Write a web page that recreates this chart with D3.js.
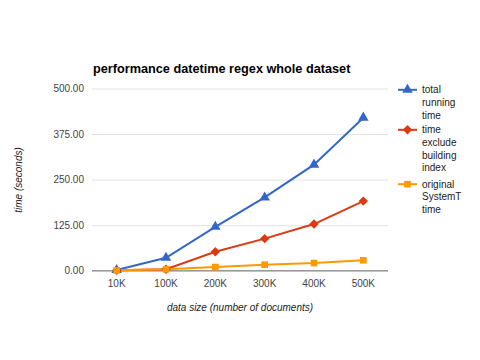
<!DOCTYPE html>
<html><head><meta charset="utf-8">
<script src="https://cdn.jsdelivr.net/npm/d3@7"></script>
<style>body{margin:0;background:#fff}svg{display:block;font-family:Arial,"Liberation Sans",sans-serif}</style>
</head><body><svg id="c" width="480" height="360"></svg>
<script>
const categories = ["10K","100K","200K","300K","400K","500K"];
const totalRunning = [2, 35.5, 120.5, 201, 291, 420];
const excludeIndex = [1, 4, 52, 88, 128, 191];
const originalSystemT = [1, 4, 10, 16.5, 21, 28.5];
const yTicks = [0, 125, 250, 375, 500];
const seriesNames = [["total","running","time"],["time","exclude","building","index"],["original","SystemT","time"]];
const colors = ["#3366cc","#dc3912","#ff9900"];
const shapes = [d3.symbolTriangle, d3.symbolSquare, d3.symbolSquare];
const sizes = [48, 44, 44];
const rotations = [0, 45, 0];

const svg = d3.select("#c");
const x = d3.scaleBand().domain(categories).range([92, 388]);
const y = d3.scaleLinear().domain([0, 500]).range([270.7, 88.5]);

svg.append("text").attr("x", 93).attr("y", 73).attr("font-size", 12.7).attr("font-weight", "bold").attr("fill", "#000")
  .text("performance datetime regex whole dataset");

const yAxis = d3.axisLeft(y).tickValues(yTicks).tickSize(-(388-92)).tickFormat(d3.format(".2f"));
const gy = svg.append("g").attr("transform", "translate(92,0)").call(yAxis);
gy.select(".domain").remove();
gy.selectAll("line").attr("stroke", "#e3e3e3");
gy.selectAll("text").attr("x", -8).attr("fill", "#444").attr("font-size", 10).attr("font-family", "Arial, 'Liberation Sans', sans-serif");

svg.append("line").attr("x1", 92).attr("x2", 388).attr("y1", y(0)).attr("y2", y(0)).attr("stroke", "#999").attr("stroke-width", 1.5);

const xAxis = d3.axisBottom(x).tickSize(0).tickPadding(9);
const gx = svg.append("g").attr("transform", `translate(0,${y(0)})`).call(xAxis);
gx.select(".domain").remove();
gx.selectAll("text").attr("fill", "#444").attr("font-size", 10).attr("font-family", "Arial, 'Liberation Sans', sans-serif");

svg.append("text").attr("x", 240).attr("y", 311).attr("text-anchor", "middle").attr("font-size", 10).attr("font-style", "italic").attr("fill", "#222")
  .text("data size (number of documents)");
svg.append("text").attr("transform", "translate(22,180) rotate(-90)").attr("text-anchor", "middle").attr("font-size", 10).attr("font-style", "italic").attr("fill", "#222")
  .text("time (seconds)");

const allSeries = [totalRunning, excludeIndex, originalSystemT];
const line = d3.line().x((d, i) => x(categories[i]) + x.bandwidth() / 2).y(d => y(d));
[0, 1, 2].forEach(s => {
  svg.append("path").datum(allSeries[s]).attr("d", line).attr("fill", "none").attr("stroke", colors[s]).attr("stroke-width", 2);
});
[0, 1, 2].forEach(s => {
  svg.append("g").selectAll("path").data(allSeries[s]).join("path")
    .attr("d", d3.symbol().type(shapes[s]).size(sizes[s]))
    .attr("transform", (d, i) => `translate(${x(categories[i]) + x.bandwidth() / 2},${y(d)}) rotate(${rotations[s]})`)
    .attr("fill", colors[s]);
});

// legend
const legendStarts = [93.3, 133.3, 187.7];
seriesNames.forEach((lines, s) => {
  const g = svg.append("g");
  const yy = legendStarts[s] - 3.5;
  g.append("line").attr("x1", 398).attr("x2", 417).attr("y1", yy).attr("y2", yy).attr("stroke", colors[s]).attr("stroke-width", 2);
  g.append("path").attr("d", d3.symbol().type(shapes[s]).size(sizes[s])).attr("transform", `translate(407.5,${yy}) rotate(${rotations[s]})`).attr("fill", colors[s]);
  lines.forEach((t, k) => {
    g.append("text").attr("x", 422).attr("y", legendStarts[s] + k * 12.7).attr("font-size", 10).attr("fill", "#222").text(t);
  });
});
</script></body></html>
